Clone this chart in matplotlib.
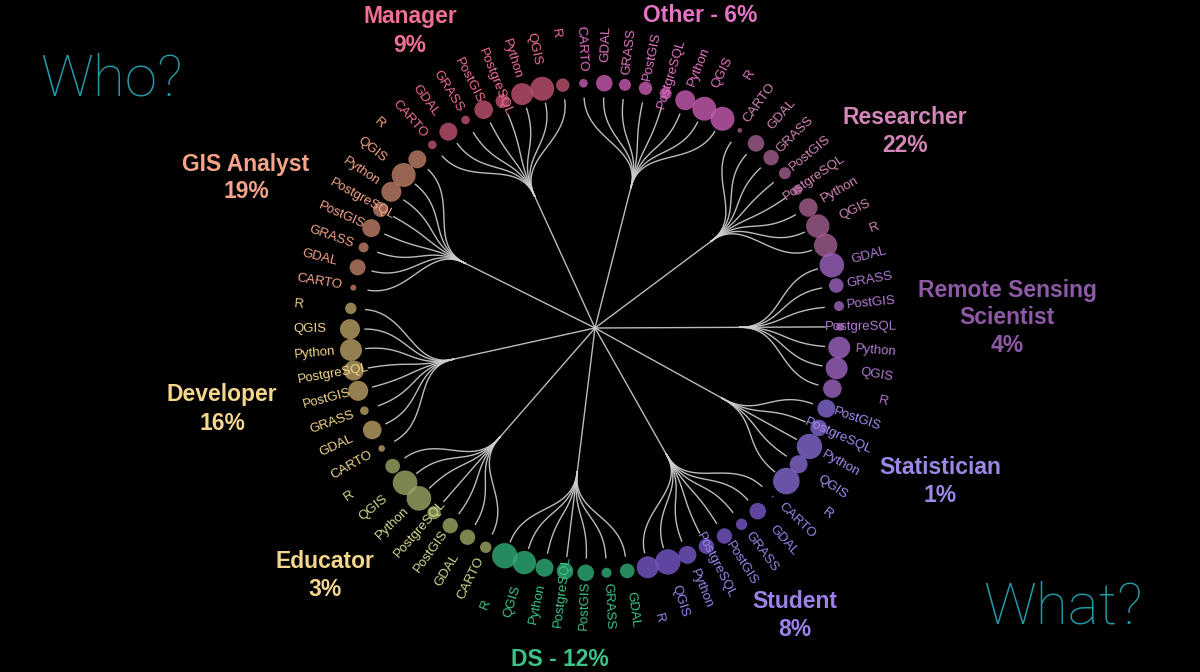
import numpy as np
import matplotlib
matplotlib.use("Agg")
import matplotlib.pyplot as plt
from matplotlib.patches import Circle

# roles, clockwise from the top
roles = ["Other", "Researcher", "Remote Sensing Scientist", "Statistician", "Student",
         "DS", "Educator", "Developer", "GIS Analyst", "Manager"]
shares = [6, 22, 4, 1, 8, 12, 3, 16, 19, 9]

# tools used by each role and the relative size of each bubble
other_tools = ["CARTO", "GDAL", "GRASS", "PostGIS", "PostgreSQL", "Python", "QGIS", "R"]
other_size = [4.3, 8.3, 6.0, 6.7, 6.0, 10.0, 12.0, 12.0]
researcher_tools = ["CARTO", "GDAL", "GRASS", "PostGIS", "PostgreSQL", "Python", "QGIS", "R"]
researcher_size = [2.3, 8.3, 7.7, 6.0, 5.0, 9.3, 11.7, 11.7]
remote_tools = ["GDAL", "GRASS", "PostGIS", "PostgreSQL", "Python", "QGIS", "R"]
remote_size = [12.3, 7.3, 5.0, 4.0, 11.0, 11.0, 9.3]
stat_tools = ["PostGIS", "PostgreSQL", "Python", "QGIS", "R"]
stat_size = [9.0, 8.3, 12.7, 9.0, 13.3]
student_tools = ["CARTO", "GDAL", "GRASS", "PostGIS", "PostgreSQL", "Python", "QGIS", "R"]
student_size = [1.0, 8.3, 5.7, 7.7, 7.7, 9.0, 12.7, 11.0]
ds_tools = ["GDAL", "GRASS", "PostGIS", "PostgreSQL", "Python", "QGIS", "R"]
ds_size = [7.3, 5.0, 8.3, 8.3, 9.0, 11.7, 12.7]
educator_tools = ["CARTO", "GDAL", "PostGIS", "PostgreSQL", "Python", "QGIS", "R"]
educator_size = [5.7, 7.7, 7.7, 6.7, 12.3, 12.3, 7.3]
developer_tools = ["CARTO", "GDAL", "GRASS", "PostGIS", "PostgreSQL", "Python", "QGIS", "R"]
developer_size = [3.3, 9.3, 4.3, 10.0, 10.0, 11.0, 10.0, 5.7]
gis_tools = ["CARTO", "GDAL", "GRASS", "PostGIS", "PostgreSQL", "Python", "QGIS", "R"]
gis_size = [3.0, 8.0, 5.0, 9.0, 7.5, 10.0, 12.0, 9.0]
manager_tools = ["CARTO", "GDAL", "GRASS", "PostGIS", "PostgreSQL", "Python", "QGIS", "R"]
manager_size = [4.3, 9.0, 4.3, 9.3, 7.0, 11.0, 12.0, 6.7]

tools = [other_tools, researcher_tools, remote_tools, stat_tools, student_tools,
         ds_tools, educator_tools, developer_tools, gis_tools, manager_tools]
sizes = [other_size, researcher_size, remote_size, stat_size, student_size,
         ds_size, educator_size, developer_size, gis_size, manager_size]

# colours: bubble, text
dot_colors = ["#c45aae", "#9e5c8c", "#9a62bc", "#8066cc", "#7456c2",
              "#2eaa72", "#9aa262", "#b69c62", "#ba7c64", "#bc506e"]
text_colors = ["#e474c6", "#d286b8", "#b27ad2", "#a68cf0", "#9e84ec",
               "#3cc488", "#d6d890", "#f2d48c", "#f4a488", "#f07092"]
title_colors = ["#e474c6", "#d286b8", "#8e5aa6", "#9c86e6", "#9c82e8",
                "#3cc488", "#f4d68c", "#f4d68c", "#f4a488", "#f07092"]

# where the role titles go (pixel coords of first line)
title_pos = [(700, 15), (905, 118), (1007, 290), (940, 467), (795, 602),
             (560, 660), (325, 561), (222, 395), (246, 164), (410, 17)]

CX, CY = 595, 328
R_GROUP = 145
R_LINK = 230
R_DOT = 245
R_TEXT = 302
START = -2.7


def polar(angle, r):
    a = np.radians(angle)
    return CX + r * np.sin(a), CY - r * np.cos(a)


def link_radial(a0, r0, a1, r1):
    # same as d3.linkRadial: cubic bezier through polar control points
    rm = (r0 + r1) / 2
    p = [polar(a0, r0), polar(a0, rm), polar(a1, rm), polar(a1, r1)]
    p = np.array(p)
    t = np.linspace(0, 1, 50)[:, None]
    return ((1 - t) ** 3 * p[0] + 3 * (1 - t) ** 2 * t * p[1]
            + 3 * (1 - t) * t ** 2 * p[2] + t ** 3 * p[3])


fig = plt.figure(figsize=(12, 6.72), dpi=100, facecolor="black")
ax = fig.add_axes([0, 0, 1, 1])
ax.set_facecolor("black")
ax.set_xlim(0, 1200)
ax.set_ylim(672, 0)
ax.axis("off")

n_leaves = sum(len(t) for t in tools)
step = 360.0 / n_leaves

i = 0
for g, role in enumerate(roles):
    angles = [START + (i + k) * step for k in range(len(tools[g]))]
    i += len(tools[g])
    a_group = np.mean(angles)

    # root -> role
    gx, gy = polar(a_group, R_GROUP)
    ax.plot([CX, gx], [CY, gy], color="#d0d0d0", lw=1.0, alpha=0.9, zorder=1)

    for tool, size, ang in zip(tools[g], sizes[g], angles):
        pts = link_radial(a_group, R_GROUP, ang, R_LINK)
        ax.plot(pts[:, 0], pts[:, 1], color="#d0d0d0", lw=1.0, alpha=0.9, zorder=1)

        dx, dy = polar(ang, R_DOT)
        ax.add_patch(Circle((dx, dy), size, facecolor=dot_colors[g], edgecolor="none",
                            alpha=0.82, zorder=2))

        tx, ty = polar(ang, R_TEXT)
        a = ang % 360
        if a < 180:
            rot, ha = 90 - a, "right"
        else:
            rot, ha = 270 - a, "left"
        ax.text(tx, ty, tool, rotation=rot, rotation_mode="anchor", ha=ha, va="center",
                color=text_colors[g], fontsize=9.5, family="Liberation Sans", zorder=3)

    # role title
    if role in ("Other", "DS"):
        lines = [f"{role} - {shares[g]}%"]
    elif role == "Remote Sensing Scientist":
        lines = ["Remote Sensing", "Scientist", f"{shares[g]}%"]
    else:
        lines = [role, f"{shares[g]}%"]
    x0, y0 = title_pos[g]
    for k, line in enumerate(lines):
        ax.text(x0, y0 + 28 * k, line, ha="center", va="center", color=title_colors[g],
                fontsize=16.5, fontweight="bold", family="Liberation Sans")

ax.text(40, 95, "Who?", ha="left", va="baseline", color="#2398a8", fontsize=42,
        family=["Roboto", "DejaVu Sans"], fontweight="light")
ax.text(983, 623, "What?", ha="left", va="baseline", color="#2398a8", fontsize=42,
        family=["Roboto", "DejaVu Sans"], fontweight="light")

fig.savefig("out.png", dpi=100, facecolor="black")
